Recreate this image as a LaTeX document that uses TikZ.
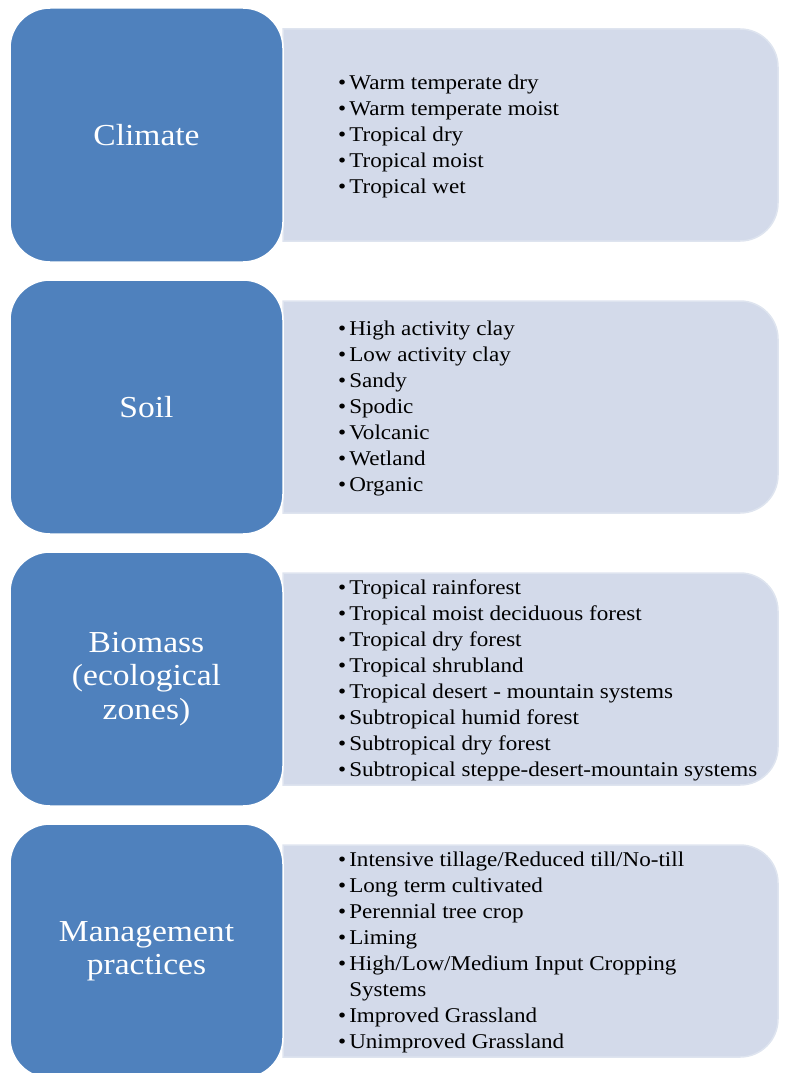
\documentclass[tikz,border=0pt]{standalone}
\usepackage{fontspec}
\setmainfont{Liberation Serif}[FakeStretch=1.1]
\definecolor{factorblue}{HTML}{4F81BD}
\definecolor{listfill}{HTML}{D3DAEA}
\definecolor{listedge}{HTML}{DEE4EF}
\newcommand{\itm}{\textbullet\hspace{3pt}}
\begin{document}
\begin{tikzpicture}[x=1pt,y=-1pt]
\tikzstyle{factor}=[draw=white,line width=1.5pt,fill=factorblue,rounded corners=40pt,minimum width=273pt,minimum height=254pt,text=white,align=center,font=\fontsize{30.5}{33.5}\selectfont]
\tikzstyle{listbox}=[fill=listfill,draw=listedge,line width=1.5pt]
\tikzstyle{itemlist}=[anchor=west,align=left,inner sep=0pt,font=\fontsize{21}{26}\selectfont]
\useasboundingbox (0,0) rectangle (785,1073);
% climate
\path [listbox] (283,29) [rounded corners=38pt] -- (778,29) -- (778,241) [sharp corners] -- (283,241) -- cycle;
\node [factor] (climate) at (146.5,135) {Climate};
\node [itemlist] (climatelist) at (338,136) {\itm Warm temperate dry\\\itm Warm temperate moist\\\itm Tropical dry\\\itm Tropical moist\\\itm Tropical wet};
% soil
\path [listbox] (283,301) [rounded corners=38pt] -- (778,301) -- (778,513) [sharp corners] -- (283,513) -- cycle;
\node [factor] (soil) at (146.5,407) {Soil};
\node [itemlist] (soillist) at (338,408) {\itm High activity clay\\\itm Low activity clay\\\itm Sandy\\\itm Spodic\\\itm Volcanic\\\itm Wetland\\\itm Organic};
% biomass
\path [listbox] (283,573) [rounded corners=38pt] -- (778,573) -- (778,785) [sharp corners] -- (283,785) -- cycle;
\node [factor] (biomass) at (146.5,679) {Biomass\\(ecological\\zones)};
\node [itemlist] (biomasslist) at (338,680) {\itm Tropical rainforest\\\itm Tropical moist deciduous forest\\\itm Tropical dry forest\\\itm Tropical shrubland\\\itm Tropical desert - mountain systems\\\itm Subtropical humid forest\\\itm Subtropical dry forest\\\itm Subtropical steppe-desert-mountain systems};
% management
\path [listbox] (283,845) [rounded corners=38pt] -- (778,845) -- (778,1057) [sharp corners] -- (283,1057) -- cycle;
\node [factor] (management) at (146.5,951) {Management\\practices};
\node [itemlist] (managementlist) at (338,952) {\itm Intensive tillage/Reduced till/No-till\\\itm Long term cultivated\\\itm Perennial tree crop\\\itm Liming\\\itm High/Low/Medium Input Cropping\\\hphantom{\itm}Systems\\\itm Improved Grassland\\\itm Unimproved Grassland};
\end{tikzpicture}
\end{document}
